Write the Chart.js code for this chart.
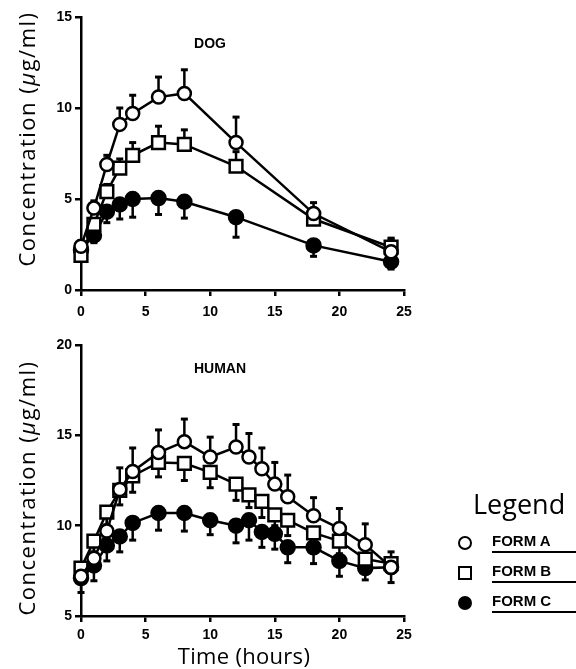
<!DOCTYPE html>
<html>
<head>
<meta charset="utf-8">
<script src="https://cdn.jsdelivr.net/npm/chart.js@4.4.0/dist/chart.umd.min.js"></script>
<style>
  body { margin: 0; background: #fff; width: 576px; height: 669px; position: relative; overflow: hidden; font-family: "Open Sans", sans-serif; }
  canvas { position: absolute; left: 0; }
  .txt { position: absolute; white-space: nowrap; color: #000; }
  .ytitle { font-size: 22px; letter-spacing: 1.5px; transform: translate(-50%, -50%) rotate(-90deg); }
  .panel { font: bold 14px "Liberation Sans", sans-serif; transform: translate(-50%, -50%); }
  .leg-row { position: absolute; left: 458px; width: 118px; height: 22px; }
  .leg-row .mk { position: absolute; left: 0; top: 4px; width: 10px; height: 10px; border: 2.5px solid #000; box-sizing: content-box; }
  .leg-row .lb { position: absolute; left: 34px; top: 0; white-space: nowrap; font: bold 15px "Liberation Sans", sans-serif; }
  .leg-row .ul { position: absolute; left: 34px; top: 19px; width: 90px; border-top: 2px solid #000; }
</style>
</head>
<body>
<canvas id="dogChart" width="576" height="330" style="top:0"></canvas>
<canvas id="humanChart" width="576" height="339" style="top:330px"></canvas>

<div class="txt ytitle" style="left:26px; top:139px">Concentration (<i>μ</i>g/ml)</div>
<div class="txt ytitle" style="left:26px; top:488px">Concentration (<i>μ</i>g/ml)</div>
<div class="txt panel" style="left:210px; top:43px">DOG</div>
<div class="txt panel" style="left:220px; top:368px">HUMAN</div>
<div class="txt" style="left:244px; top:655px; font-size:22px; letter-spacing:0.3px; transform: translate(-50%, -50%)">Time (hours)</div>

<div class="txt" style="left:473px; top:503px; font-size:27px; transform: translateY(-50%)">Legend</div>
<div class="leg-row" style="top:532px"><div class="mk" style="border-radius:50%"></div><div class="lb">FORM A</div><div class="ul"></div></div>
<div class="leg-row" style="top:562px"><div class="mk"></div><div class="lb">FORM B</div><div class="ul"></div></div>
<div class="leg-row" style="top:592px"><div class="mk" style="border-radius:50%; background:#000"></div><div class="lb">FORM C</div><div class="ul"></div></div>

<script>
// sampling times (hours)
const dogTimes = [0, 1, 2, 3, 4, 6, 8, 12, 18, 24];
const humanTimes = [0, 1, 2, 3, 4, 6, 8, 10, 12, 13, 14, 15, 16, 18, 20, 22, 24];

// DOG concentrations (ug/ml) and error bar lengths
const dogFormA = [2.4, 4.5, 6.9, 9.1, 9.7, 10.6, 10.8, 8.1, 4.2, 2.1];
const dogFormAErr = [0.3, 0.4, 0.5, 0.9, 1.0, 1.1, 1.3, 1.4, 0.6, 0.7];
const dogFormB = [1.9, 3.6, 5.4, 6.7, 7.4, 8.1, 8.0, 6.8, 3.9, 2.35];
const dogFormBErr = [0.2, 0.3, 0.4, 0.5, 0.7, 0.9, 0.8, 0.8, 0.3, 0.5];
const dogFormC = [2.2, 3.0, 4.3, 4.7, 5.0, 5.05, 4.85, 4.0, 2.45, 1.55];
const dogFormCErr = [0.2, 0.4, 0.6, 0.8, 1.0, 0.9, 0.9, 1.1, 0.6, 0.4];

// HUMAN concentrations (ug/ml) and error bar lengths
const humanFormA = [7.2, 8.2, 9.7, 12.0, 13.0, 14.05, 14.65, 13.8, 14.35, 13.8, 13.15, 12.3, 11.6, 10.55, 9.85, 8.95, 7.7];
const humanFormAErr = [0.5, 0.8, 1.0, 1.2, 1.3, 1.25, 1.25, 1.1, 1.25, 1.3, 1.15, 1.2, 1.2, 1.0, 1.1, 1.15, 0.85];
const humanFormB = [7.65, 9.15, 10.75, 11.95, 12.75, 13.5, 13.45, 12.95, 12.3, 11.7, 11.35, 10.6, 10.3, 9.6, 9.15, 8.15, 7.9];
const humanFormBErr = [0.4, 0.6, 0.7, 0.8, 0.9, 0.8, 0.95, 0.85, 0.9, 0.7, 0.9, 0.6, 0.85, 0.7, 0.7, 0.6, 0.5];
const humanFormC = [7.1, 7.8, 8.9, 9.4, 10.15, 10.7, 10.7, 10.3, 10.0, 10.3, 9.65, 9.55, 8.8, 8.8, 8.05, 7.65, 7.7];
const humanFormCErr = [0.8, 0.85, 0.85, 0.85, 0.95, 0.95, 1.0, 0.8, 0.95, 1.1, 0.85, 0.85, 0.85, 0.9, 0.85, 0.65, 0.85];

const xTicks = [0, 5, 10, 15, 20, 25];
const dogYTicks = [0, 5, 10, 15];
const humanYTicks = [5, 10, 15, 20];

function pts(times, vals) {
    return times.map((t, i) => ({ x: t, y: vals[i] }));
}

// draws the SEM bars under the markers, one direction per dataset
const errorBars = {
    id: "errorBars",
    beforeDatasetsDraw(chart) {
        const c = chart.ctx;
        const xs = chart.scales.x, ys = chart.scales.y;
        c.save();
        c.strokeStyle = "#000";
        chart.data.datasets.forEach(ds => {
            ds.data.forEach((p, i) => {
                const e = ds.err[i];
                if (!e) return;
                const px = xs.getPixelForValue(p.x);
                const y0 = ys.getPixelForValue(p.y);
                const y1 = ys.getPixelForValue(p.y + ds.errDir * e);
                c.lineWidth = 2.5;
                c.beginPath();
                c.moveTo(px, y0);
                c.lineTo(px, y1);
                c.stroke();
                c.lineWidth = 3;
                c.beginPath();
                c.moveTo(px - 3.5, y1);
                c.lineTo(px + 3.5, y1);
                c.stroke();
            });
        });
        c.restore();
    }
};

function makeDataset(label, times, vals, err, dir, style, filled) {
    return {
        label: label,
        data: pts(times, vals),
        err: err,
        errDir: dir,
        clip: false,
        borderColor: "#000",
        borderWidth: 2.5,
        pointStyle: style,
        pointRadius: style === "rect" ? 9 : (filled ? 7 : 6.5),
        pointBorderWidth: 2.5,
        pointBorderColor: "#000",
        pointBackgroundColor: filled ? "#000" : "#fff",
        showLine: true,
        tension: 0,
        fill: false
    };
}

function makeOptions(yTicks, padTop, xHeight, xPad) {
    const axisGrid = { display: true, drawOnChartArea: false, drawTicks: true, tickLength: 6, color: "#000", lineWidth: 2.5 };
    const tickFont = { family: "Liberation Sans", size: 14, weight: "bold" };
    return {
        responsive: false,
        animation: false,
        devicePixelRatio: 1,
        layout: { padding: { top: padTop, right: 172, left: 0, bottom: 0 } },
        plugins: { legend: { display: false }, tooltip: { enabled: false } },
        scales: {
            x: {
                type: "linear",
                min: xTicks[0],
                max: xTicks[xTicks.length - 1],
                afterBuildTicks: s => { s.ticks = xTicks.map(v => ({ value: v })); },
                afterFit: s => { s.height = xHeight; },
                grid: axisGrid,
                border: { display: true, color: "#000", width: 2.5 },
                ticks: { color: "#000", font: tickFont, padding: xPad, maxRotation: 0 }
            },
            y: {
                type: "linear",
                min: yTicks[0],
                max: yTicks[yTicks.length - 1],
                afterBuildTicks: s => { s.ticks = yTicks.map(v => ({ value: v })); },
                afterFit: s => { s.width = 81; },
                grid: axisGrid,
                border: { display: true, color: "#000", width: 2.5 },
                ticks: { color: "#000", font: tickFont, padding: 3 }
            }
        }
    };
}

new Chart(document.getElementById("dogChart"), {
    type: "scatter",
    data: {
        datasets: [
            makeDataset("FORM A", dogTimes, dogFormA, dogFormAErr, 1, "circle", false),
            makeDataset("FORM B", dogTimes, dogFormB, dogFormBErr, 1, "rect", false),
            makeDataset("FORM C", dogTimes, dogFormC, dogFormCErr, -1, "circle", true)
        ]
    },
    options: makeOptions(dogYTicks, 17, 40, 8),
    plugins: [errorBars]
});

new Chart(document.getElementById("humanChart"), {
    type: "scatter",
    data: {
        datasets: [
            makeDataset("FORM A", humanTimes, humanFormA, humanFormAErr, 1, "circle", false),
            makeDataset("FORM B", humanTimes, humanFormB, humanFormBErr, -1, "rect", false),
            makeDataset("FORM C", humanTimes, humanFormC, humanFormCErr, -1, "circle", true)
        ]
    },
    options: makeOptions(humanYTicks, 15, 53, 5),
    plugins: [errorBars]
});
</script>
</body>
</html>
